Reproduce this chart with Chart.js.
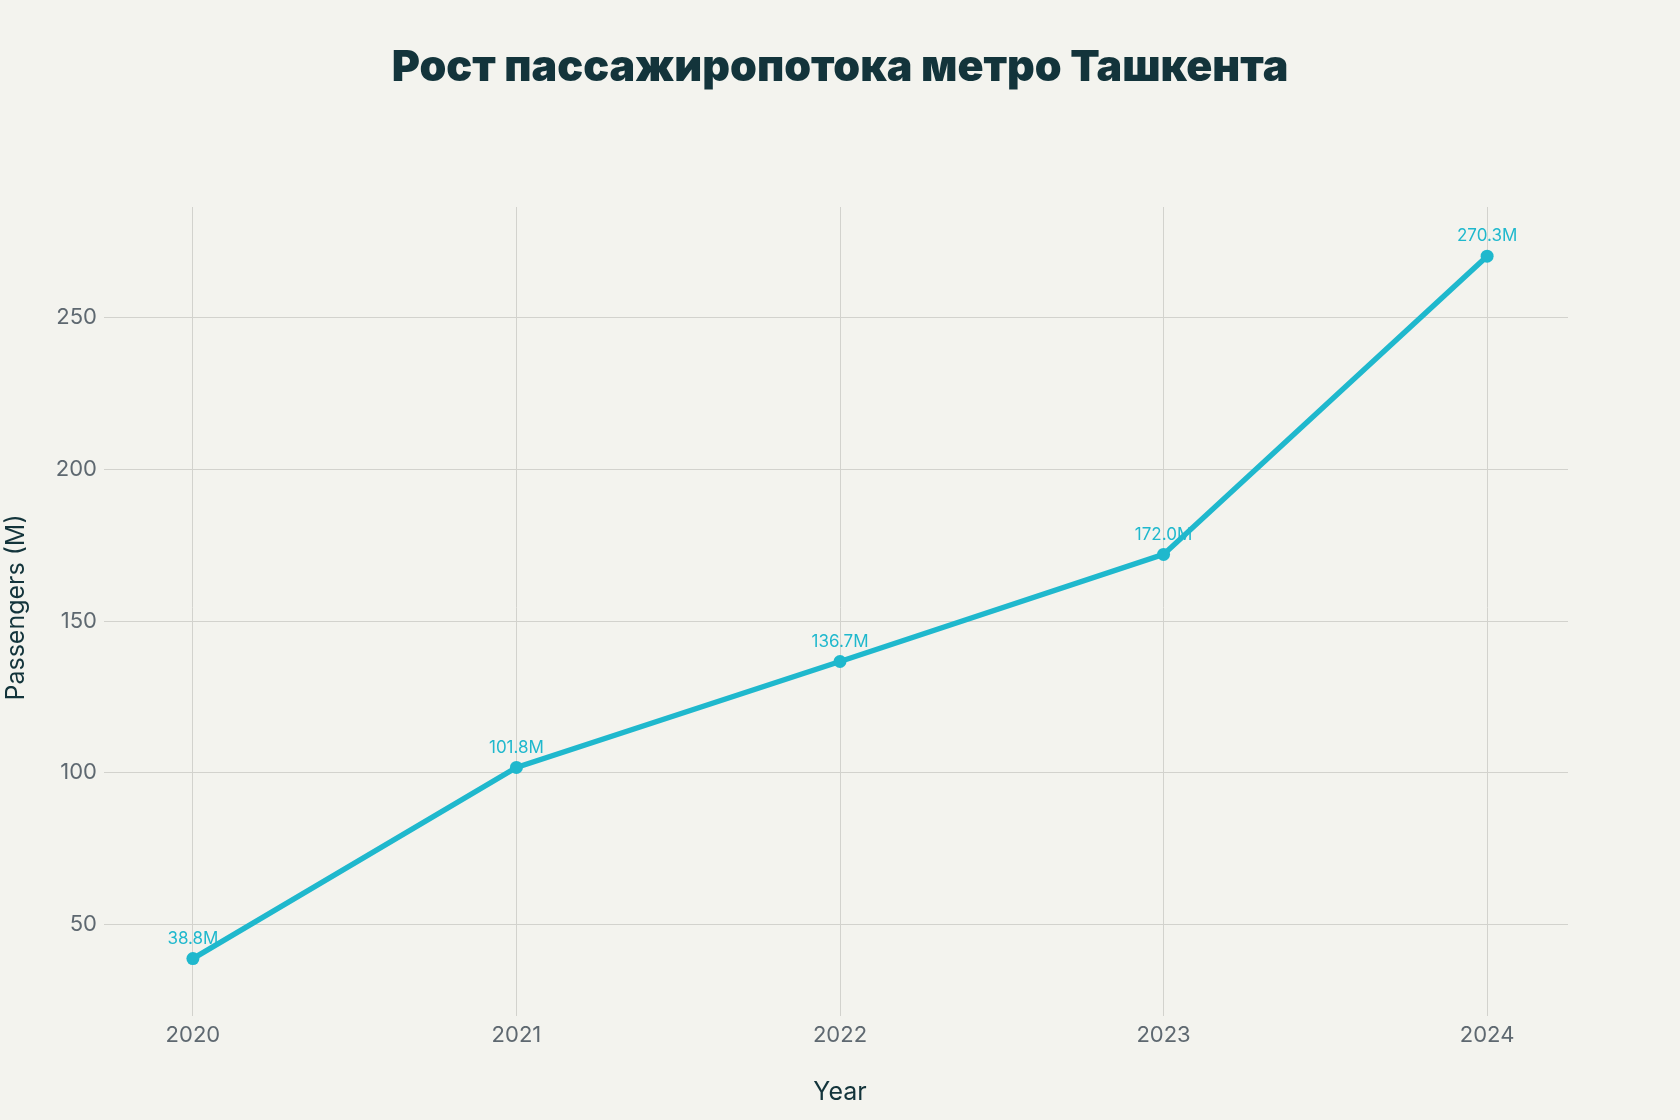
<!DOCTYPE html>
<html>
<head>
<meta charset="utf-8">
<script src="https://cdn.jsdelivr.net/npm/chart.js@4/dist/chart.umd.min.js"></script>
<style>
  html, body { margin: 0; padding: 0; background: #f3f3ee; }
  #wrap { width: 1680px; height: 1120px; position: relative; }
</style>
</head>
<body>
<div id="wrap"><canvas id="metro-chart"></canvas></div>
<script>
// Data
const years = [2020, 2021, 2022, 2023, 2024];
const passengers = [38.8, 101.8, 136.7, 172.0, 270.3];
const yTicks = [50, 100, 150, 200, 250];
const chartTitle = "Рост пассажиропотока метро Ташкента";

const lineColor = "#1fb8cd";
const darkText = "#13343b";
const tickText = "#5e6870";
const gridColor = "#d2d2cd";
const fontFamily = "Inter, 'DejaVu Sans', sans-serif";

// Title centred on the plot area, plus value labels above each point
const extras = {
  id: "extras",
  afterDraw(chart) {
    const ctx = chart.ctx;
    const area = chart.chartArea;
    ctx.save();
    ctx.font = "900 43px " + fontFamily;
    ctx.fillStyle = darkText;
    ctx.textAlign = "center";
    ctx.textBaseline = "middle";
    ctx.fillText(chartTitle, (area.left + area.right) / 2, 68);
    ctx.restore();
  },
  afterDatasetsDraw(chart) {
    const ctx = chart.ctx;
    const meta = chart.getDatasetMeta(0);
    ctx.save();
    ctx.font = "17px " + fontFamily;
    ctx.fillStyle = lineColor;
    ctx.textAlign = "center";
    ctx.textBaseline = "middle";
    meta.data.forEach((pt, i) => {
      ctx.fillText(passengers[i].toFixed(1) + "M", pt.x, pt.y - 20);
    });
    ctx.restore();
  },
};

const ctx = document.getElementById("metro-chart");

new Chart(ctx, {
  type: "line",
  data: {
    datasets: [
      {
        label: "Passengers",
        data: years.map((y, i) => ({ x: y, y: passengers[i] })),
        borderColor: lineColor,
        backgroundColor: lineColor,
        borderWidth: 5.5,
        pointRadius: 6.5,
        pointHoverRadius: 6.5,
        pointBorderWidth: 0,
        tension: 0,
        fill: false,
      },
    ],
  },
  options: {
    responsive: true,
    maintainAspectRatio: false,
    animation: false,
    layout: { padding: { left: 0, right: 112, top: 207, bottom: 0 } },
    plugins: {
      legend: { display: false },
      tooltip: { enabled: false },
      title: { display: false },
    },
    scales: {
      x: {
        type: "linear",
        min: 2019.75,
        max: 2024.25,
        afterBuildTicks: (scale) => {
          scale.ticks = years.map((v) => ({ value: v }));
        },
        afterFit: (scale) => {
          scale.height = 112;
        },
        ticks: {
          color: tickText,
          font: { family: fontFamily, size: 22 },
          padding: 6,
          maxRotation: 0,
          callback: (v) => String(v),
        },
        grid: { color: gridColor, tickLength: 8, tickColor: gridColor },
        border: { display: false },
        title: {
          display: true,
          text: "Year",
          color: darkText,
          font: { family: fontFamily, size: 25 },
          padding: { top: 0, bottom: 13 },
        },
      },
      y: {
        min: 22.5,
        max: 286.5,
        afterBuildTicks: (scale) => {
          scale.ticks = yTicks.map((v) => ({ value: v }));
        },
        afterFit: (scale) => {
          scale.width = 112;
        },
        ticks: {
          color: tickText,
          font: { family: fontFamily, size: 22 },
          padding: 7,
        },
        grid: { color: gridColor, tickLength: 8, tickColor: gridColor },
        border: { display: false },
        title: {
          display: true,
          text: "Passengers (M)",
          color: darkText,
          font: { family: fontFamily, size: 25 },
          padding: { top: 1, bottom: 0 },
        },
      },
    },
  },
  plugins: [extras],
});
</script>
</body>
</html>
